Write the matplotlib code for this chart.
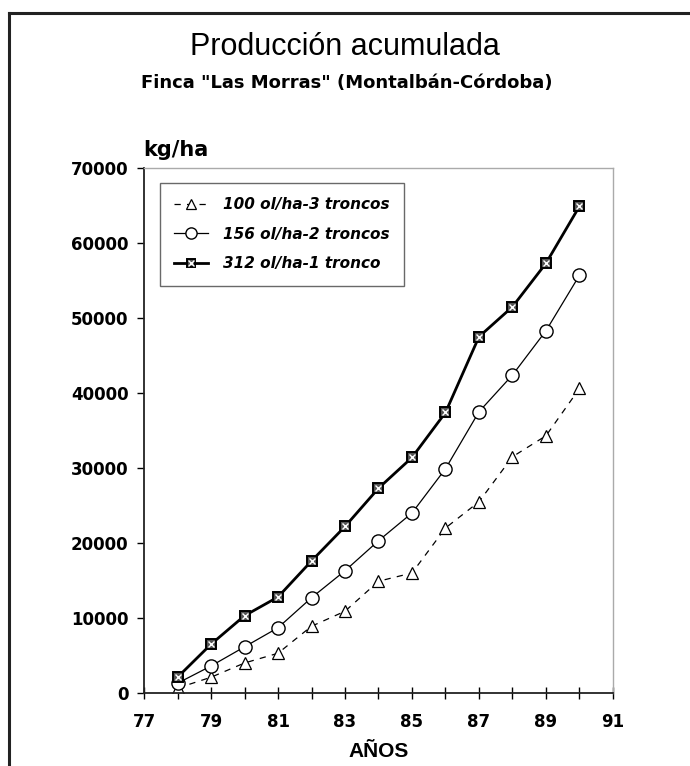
import matplotlib
matplotlib.use("Agg")
import matplotlib.pyplot as plt
from matplotlib.lines import Line2D
from matplotlib.legend_handler import HandlerTuple

plt.rcParams['font.family'] = ['Liberation Sans', 'DejaVu Sans']

# Cumulative olive yield (kg/ha), seasons 78-90
years = [78, 79, 80, 81, 82, 83, 84, 85, 86, 87, 88, 89, 90]
prod_100 = [650, 2100, 4000, 5300, 8900, 10900, 14900, 16000, 22000, 25500, 31500, 34300, 40600]
prod_156 = [1300, 3600, 6150, 8700, 12700, 16300, 20300, 24000, 29900, 37500, 42400, 48300, 55700]
prod_312 = [2100, 6500, 10300, 12800, 17600, 22200, 27300, 31400, 37400, 47500, 51500, 57300, 64900]

labels = ["100 ol/ha-3 troncos", "156 ol/ha-2 troncos", "312 ol/ha-1 tronco"]
xticks_major = [77, 79, 81, 83, 85, 87, 89, 91]
yticks = [0, 10000, 20000, 30000, 40000, 50000, 60000, 70000]

WIDE = ['DejaVu Sans']

fig = plt.figure(figsize=(6.9, 7.66), dpi=100)
ax = fig.add_axes([0.2087, 0.0953, 0.6797, 0.6854])

# Series
l100, = ax.plot(years, prod_100, color='black', lw=0.9, ls=(0, (5, 5)),
                marker='^', ms=9, mfc='white', mec='black', mew=0.9)
l156, = ax.plot(years, prod_156, color='black', lw=0.9,
                marker='o', ms=9.5, mfc='white', mec='black', mew=1.0)
l312, = ax.plot(years, prod_312, color='black', lw=2.0,
                marker='s', ms=7.5, mfc='#555555', mec='black', mew=1.4)
x312, = ax.plot(years, prod_312, ls='none', marker='x', ms=5,
                mec='white', mew=1.0)

ax.set_xlim(77, 91)
ax.set_ylim(0, 70000)
ax.set_xticks(xticks_major)
ax.set_xticklabels([str(v) for v in xticks_major])
ax.set_xticks(range(78, 91, 2), minor=True)
ax.set_yticks(yticks)
ax.set_yticklabels([str(v) for v in yticks])

for lab in ax.get_xticklabels() + ax.get_yticklabels():
    lab.set_fontweight('bold')
    lab.set_fontsize(12)
    lab.set_family(WIDE)

ax.tick_params(axis='x', which='both', direction='inout', length=9, width=1.0, pad=10)
ax.tick_params(axis='y', which='both', direction='out', length=5, width=1.0, pad=6)

for side in ('left', 'bottom'):
    ax.spines[side].set_linewidth(1.3)
    ax.spines[side].set_color('#222222')
for side in ('top', 'right'):
    ax.spines[side].set_linewidth(1.0)
    ax.spines[side].set_color('#aaaaaa')

ax.set_xlabel("AÑOS", fontsize=15, fontweight='bold', labelpad=8)

leg = ax.legend([l100, l156, (l312, x312)], labels,
                handler_map={tuple: HandlerTuple(ndivide=1)},
                loc='upper left', bbox_to_anchor=(0.034, 0.972),
                borderaxespad=0, fancybox=False, shadow=False,
                frameon=True, handlelength=2.2, handletextpad=1.0,
                labelspacing=0.95, borderpad=0.95, markerscale=0.85,
                prop={'style': 'italic', 'weight': 'bold', 'size': 11,
                      'family': WIDE})
leg.get_frame().set_edgecolor('#444444')
leg.get_frame().set_linewidth(1.0)

# Titles and unit label
fig.text(0.5, 0.938, "Producción acumulada", ha='center', va='center', fontsize=22)
fig.text(0.502, 0.891, "Finca \"Las Morras\" (Montalbán-Córdoba)", ha='center',
         va='center', fontsize=13, fontweight='bold', family=WIDE)
fig.text(0.207, 0.796, "kg/ha", ha='left', va='baseline', fontsize=15,
         fontweight='bold', family=WIDE)

# Page frame (left and top edges)
fig.add_artist(Line2D([9 / 690, 9 / 690], [0, 1 - 13 / 766], transform=fig.transFigure,
                      color='#222222', lw=2.2))
fig.add_artist(Line2D([9 / 690, 1], [1 - 13 / 766, 1 - 13 / 766], transform=fig.transFigure,
                      color='#222222', lw=2.2))

fig.savefig("out.png", dpi=100, facecolor='white')
